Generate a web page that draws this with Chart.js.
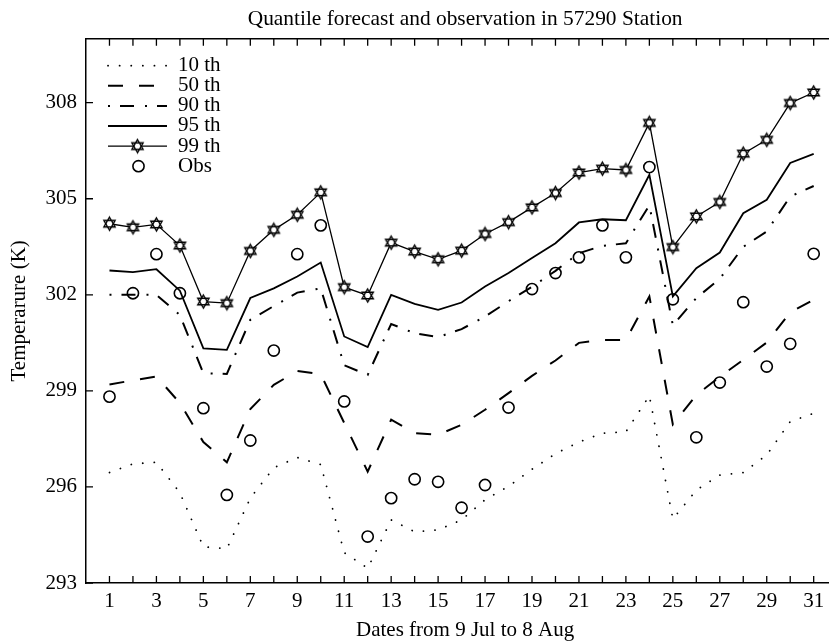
<!DOCTYPE html>
<html><head><meta charset="utf-8">
<script src="https://cdn.jsdelivr.net/npm/chart.js@4/dist/chart.umd.min.js"></script>
<style>html,body{margin:0;padding:0;background:#fff;overflow:hidden}#wrap{width:829px;height:641px;overflow:hidden}</style>
</head><body><div id="wrap"><canvas id="c" width="852" height="641"></canvas></div>
<script>
const days = [1,2,3,4,5,6,7,8,9,10,11,12,13,14,15,16,17,18,19,20,21,22,23,24,25,26,27,28,29,30,31];
const xTickLabels = [1,3,5,7,9,11,13,15,17,19,21,23,25,27,29,31];
const yTickLabels = [293,296,299,302,305,308];
const q10 = [296.45,296.72,296.77,295.82,294.13,294.07,295.65,296.6,296.92,296.7,293.95,293.46,294.97,294.6,294.66,294.97,295.6,296.02,296.55,297.04,297.4,297.68,297.72,298.85,295.0,295.9,296.37,296.45,297.0,298.04,298.3];
const q50 = [299.2,299.33,299.45,298.62,297.4,296.77,298.43,299.19,299.62,299.52,298.0,296.48,298.1,297.68,297.63,297.94,298.41,298.93,299.47,299.95,300.5,300.59,300.59,301.95,297.95,298.87,299.44,299.97,300.51,301.45,301.85];
const q90 = [302.0,302.0,302.0,301.37,299.55,299.53,301.22,301.65,302.07,302.2,299.8,299.5,301.09,300.8,300.68,300.93,301.32,301.8,302.25,302.75,303.3,303.53,303.61,304.8,301.05,301.9,302.5,303.5,303.98,305.07,305.4];
const q95 = [302.76,302.71,302.8,302.13,300.33,300.28,301.9,302.2,302.57,303.01,300.7,300.37,302.0,301.72,301.53,301.76,302.26,302.68,303.15,303.61,304.26,304.36,304.33,305.75,301.95,302.83,303.32,304.55,304.97,306.12,306.4];
const q99 = [304.22,304.11,304.2,303.54,301.79,301.74,303.37,304.03,304.5,305.2,302.24,301.98,303.63,303.35,303.11,303.38,303.9,304.27,304.73,305.18,305.82,305.94,305.9,307.37,303.49,304.45,304.9,306.41,306.84,307.99,308.32];
const obs = [298.82,302.05,303.27,302.05,298.46,295.75,297.45,300.26,303.27,304.17,298.67,294.45,295.65,296.24,296.16,295.35,296.06,298.48,302.18,302.68,303.17,304.17,303.17,305.99,301.86,297.55,299.26,301.77,299.76,300.47,303.28];

const FONT = "'Liberation Serif','Times New Roman',serif";
Chart.defaults.font.family = FONT;
Chart.defaults.color = '#000';

function makeStar(r){
  const s = Math.ceil(r*2+4);
  const c = document.createElement('canvas'); c.width = s; c.height = s;
  const g = c.getContext('2d'); const cx = s/2, cy = s/2;
  const tri = (off) => { g.beginPath(); for(let k=0;k<3;k++){ const a = off + k*2*Math.PI/3; const px = cx + r*Math.cos(a), py = cy + r*Math.sin(a); if(k===0) g.moveTo(px,py); else g.lineTo(px,py);} g.closePath(); };
  g.fillStyle = '#fff'; tri(-Math.PI/2); g.fill(); tri(Math.PI/2); g.fill();
  g.strokeStyle = '#000'; g.lineWidth = 1.4; tri(-Math.PI/2); g.stroke(); tri(Math.PI/2); g.stroke();
  return c;
}
const star = makeStar(6.5);

const pts = arr => days.map((d,i)=>({x:d, y:arr[i]}));

const framePlugin = {
  id:'frame',
  afterDraw(chart){
    const {ctx, chartArea:a, scales:{x,y}} = chart;
    ctx.save(); ctx.strokeStyle='#000'; ctx.lineWidth=1.5; ctx.setLineDash([]);
    ctx.beginPath(); ctx.moveTo(a.left,a.top); ctx.lineTo(a.right,a.top); ctx.lineTo(a.right,a.bottom); ctx.stroke();
    ctx.lineWidth=1.3; ctx.beginPath();
    days.forEach(d=>{ const px=x.getPixelForValue(d); ctx.moveTo(px,a.bottom); ctx.lineTo(px,a.bottom-7); ctx.moveTo(px,a.top); ctx.lineTo(px,a.top+7); });
    yTickLabels.forEach(v=>{ const py=y.getPixelForValue(v); ctx.moveTo(a.left,py); ctx.lineTo(a.left+7,py); ctx.moveTo(a.right,py); ctx.lineTo(a.right-7,py); });
    ctx.stroke(); ctx.restore();
  }
};

const legendPlugin = {
  id:'qlegend',
  afterDraw(chart){
    const ctx = chart.ctx, a = chart.chartArea;
    const x0 = a.left + 22, x1 = a.left + 81, xt = a.left + 92, y0 = a.top + 27, dy = 20.1;
    chart.data.datasets.forEach((ds,i)=>{
      const yy = y0 + i*dy;
      ctx.save();
      if (ds.showLine !== false) {
        ctx.strokeStyle = ds.borderColor; ctx.lineWidth = ds.borderWidth;
        ctx.setLineDash(ds.borderDash || []); ctx.lineCap = ds.borderCapStyle || 'butt';
        ctx.beginPath(); ctx.moveTo(x0,yy); ctx.lineTo(x1,yy); ctx.stroke();
      }
      ctx.setLineDash([]);
      const mx = (x0+x1)/2;
      if (ds.pointStyle && typeof ds.pointStyle === 'object') {
        ctx.drawImage(ds.pointStyle, mx - ds.pointStyle.width/2, yy - ds.pointStyle.height/2);
      } else if (ds.pointStyle === 'circle') {
        ctx.strokeStyle = ds.borderColor; ctx.lineWidth = ds.borderWidth;
        ctx.beginPath(); ctx.arc(mx+1, yy, ds.pointRadius, 0, Math.PI*2); ctx.stroke();
      }
      ctx.fillStyle = '#000'; ctx.font = "21px " + FONT; ctx.textBaseline = 'middle'; ctx.textAlign = 'left';
      ctx.fillText(ds.label, xt, yy);
      ctx.restore();
    });
  }
};

new Chart(document.getElementById('c'), {
  type:'line',
  data:{ datasets:[
    {label:'10 th', data:pts(q10), borderColor:'#000', borderWidth:1.8, borderDash:[0.1,11.5], borderCapStyle:'round', pointRadius:0, fill:false},
    {label:'50 th', data:pts(q50), borderColor:'#000', borderWidth:2, borderDash:[15,16], pointRadius:0, fill:false},
    {label:'90 th', data:pts(q90), borderColor:'#000', borderWidth:2, borderDash:[2,10,14,11], pointRadius:0, fill:false},
    {label:'95 th', data:pts(q95), borderColor:'#000', borderWidth:1.8, pointRadius:0, fill:false},
    {label:'99 th', data:pts(q99), borderColor:'#000', borderWidth:1.3, pointStyle:star, pointRadius:6.5, fill:false},
    {label:'Obs', data:pts(obs), showLine:false, borderColor:'#000', backgroundColor:'rgba(0,0,0,0)', borderWidth:1.6, pointStyle:'circle', pointRadius:5.6, fill:false}
  ]},
  options:{
    responsive:false, devicePixelRatio:1, animation:false,
    layout:{padding:{left:0,right:0,top:0,bottom:0}},
    plugins:{
      legend:{display:false}, tooltip:{enabled:false},
      title:{display:true, text:'Quantile forecast and observation in 57290 Station', fullSize:false, color:'#000',
        font:{family:FONT,size:21.4,weight:'normal',lineHeight:1.2}, padding:{top:7,bottom:6}}
    },
    scales:{
      x:{type:'linear', position:'bottom', min:0, max:32.3,
        afterBuildTicks:s=>{ s.ticks = xTickLabels.map(v=>({value:v})); },
        afterFit:s=>{ s.height = 58; },
        grid:{display:false, drawTicks:false},
        border:{display:true, color:'#000', width:1.5},
        ticks:{autoSkip:false, maxRotation:0, padding:6, color:'#000', font:{family:FONT,size:21}},
        title:{display:true, text:'Dates from 9 Jul to 8 Aug', color:'#000', font:{family:FONT,size:21,lineHeight:1}, padding:{top:0,bottom:0}}
      },
      y:{type:'linear', min:293, max:310,
        afterBuildTicks:s=>{ s.ticks = yTickLabels.map(v=>({value:v})); },
        afterFit:s=>{ s.width = 86; },
        grid:{display:false, drawTicks:false},
        border:{display:true, color:'#000', width:1.5},
        ticks:{padding:9, color:'#000', font:{family:FONT,size:21}},
        title:{display:true, text:'Temperarure (K)', color:'#000', font:{family:FONT,size:21,lineHeight:1}, padding:{top:9,bottom:0}}
      }
    }
  },
  plugins:[framePlugin, legendPlugin]
});
</script></body></html>
